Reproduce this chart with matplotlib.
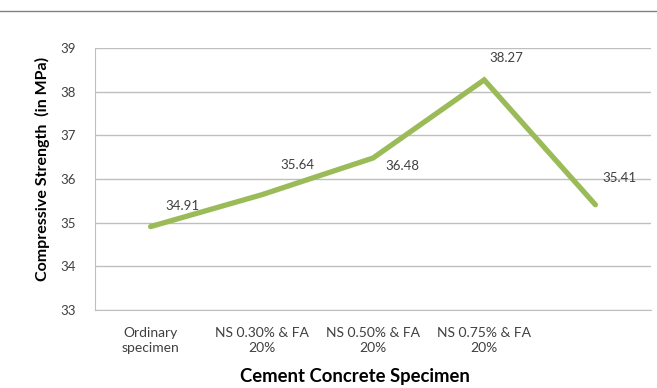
import matplotlib
matplotlib.use("Agg")
import matplotlib.pyplot as plt

plt.rcParams["font.family"] = ["Lato", "DejaVu Sans"]

categories = ["Ordinary\nspecimen", "NS 0.30% & FA\n20%", "NS 0.50% & FA\n20%", "NS 0.75% & FA\n20%", ""]
strength = [34.91, 35.64, 36.48, 38.27, 35.41]
# pixel offsets of each value label from its point
label_offsets = [(32, 21), (36, 30), (29, -8), (22, 22), (24, 27)]

LINE_COLOR = "#9BBB59"
GRID_COLOR = "#BFBFBF"
TEXT_COLOR = "#404040"

fig = plt.figure(figsize=(6.57, 3.88), dpi=100)
ax = fig.add_axes([95 / 657, 78 / 388, 556 / 657, 262 / 388])

x = list(range(len(strength)))
ax.plot(x, strength, color=LINE_COLOR, lw=3.8, solid_capstyle="round", solid_joinstyle="miter", zorder=3)

for xi, val, (dx, dy) in zip(x, strength, label_offsets):
    ax.annotate(f"{val:.2f}", (xi, val), xytext=(dx * 0.72, dy * 0.72), textcoords="offset points",
                ha="center", va="center", fontsize=9.5, color=TEXT_COLOR)

ax.set_xlim(-0.5, len(strength) - 0.5)
ax.set_ylim(33, 39)
ax.set_yticks(range(33, 40))
ax.set_xticks(x)
ax.set_xticklabels(categories, fontsize=10, color=TEXT_COLOR, linespacing=1.25)
ax.tick_params(axis="y", labelsize=9.5, labelcolor=TEXT_COLOR, length=0, pad=14)
ax.tick_params(axis="x", length=0, pad=12.5)

ax.grid(axis="y", color=GRID_COLOR, lw=1)
ax.set_axisbelow(True)
for side in ["top", "right"]:
    ax.spines[side].set_visible(False)
ax.spines["left"].set_color(GRID_COLOR)
ax.spines["bottom"].set_color(GRID_COLOR)

ax.set_ylabel("Compressive Strength  (in MPa)", fontsize=11.5, fontweight="bold", color="black",
              va="center", ha="center")
ax.yaxis.set_label_coords(-0.0953, 0.538)
ax.set_xlabel("Cement Concrete Specimen", fontsize=13.3, fontweight="bold", color="black",
              va="center", ha="center")
ax.xaxis.set_label_coords(0.4676, -0.255)

# rule across the top of the figure
fig.add_artist(plt.Line2D([0, 1], [1 - 10.5 / 388] * 2, transform=fig.transFigure, color="#808080", lw=1))

fig.savefig("out.png", dpi=100)
